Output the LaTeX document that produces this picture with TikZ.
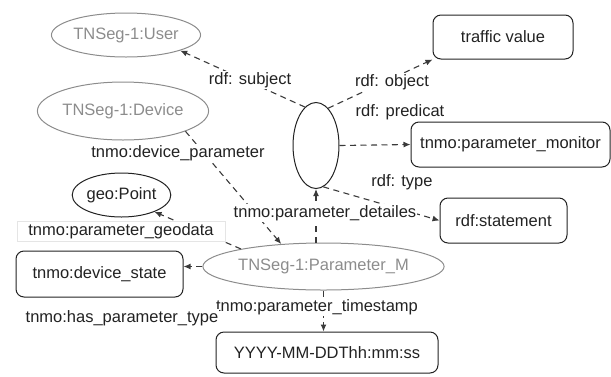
\documentclass[tikz,border=0pt]{standalone}
\usepackage{fontspec}
\setmainfont{Liberation Sans}
\usetikzlibrary{shapes.geometric,arrows.meta}
\definecolor{lgray}{HTML}{8C8C8C}
\definecolor{ink}{HTML}{222222}
\definecolor{edgec}{HTML}{3A3A3A}
\tikzset{
  base/.style={font=\fontsize{16.5}{19.8}\selectfont, inner sep=0pt, line width=1pt},
  gell/.style={base, ellipse, draw=lgray, text=lgray},
  bell/.style={base, ellipse, draw=ink, text=ink},
  rbox/.style={base, rectangle, rounded corners=8pt, draw=ink, text=ink},
  lbl/.style={base, text=ink, fill=white, inner sep=1pt},
  edge/.style={draw=edgec, line width=1.1pt, dash pattern=on 6pt off 4.5pt, -{Latex[length=7pt,width=6pt]}}
}
\begin{document}
\begin{tikzpicture}[x=1pt,y=-1pt]
\useasboundingbox (0,0) rectangle (611,376);
% nodes
\node[gell, minimum width=146pt, minimum height=44pt] (user) at (126,35) {TNSeg-1:User};
\node[gell, minimum width=140pt, minimum height=58pt] (dev) at (123,111) {TNSeg-1:Device};
\node[bell, minimum width=97pt, minimum height=44pt] (geo) at (121.5,195) {geo:Point};
\node[bell, minimum width=46pt, minimum height=86pt] (c) at (316,145.5) {};
\node[gell, minimum width=187pt, minimum height=47pt] (pm) at (323.5,266.5) {TNSeg-1:Parameter\_M};
\node[rbox, minimum width=140pt, minimum height=44pt] (tv) at (503,37) {traffic value};
\node[rbox, minimum width=199pt, minimum height=45pt] (mon) at (510.5,144.5) {tnmo:parameter\_monitor};
\node[rbox, minimum width=127pt, minimum height=45pt] (st) at (503.5,220.5) {rdf:statement};
\node[rbox, minimum width=167pt, minimum height=46pt] (ds) at (99.5,274) {tnmo:device\_state};
\node[rbox, minimum width=222pt, minimum height=41pt] (ts) at (327,352.5) {YYYY-MM-DDThh:mm:ss};
% edges
\draw[edge] (c.106) -- (user.-16);
\draw[edge] (c.72) -- (tv.south west);
\draw[edge] (c.east) -- (mon.west);
\draw[edge] (c.-80) -- (st.west);
\draw[edge] (c.south |- pm.north) -- (c.south);
\draw[edge] (dev.-18) -- (pm.152);
\draw[edge] (pm.168) -- (geo.-27);
\draw[edge] (pm.west) -- (pm.west -| ds.east);
\draw[edge] (pm.south) -- (pm.south |- ts.north);
% labels (drawn over the connectors)
\node[lbl] (lsub) at (250,80) {rdf: subject};
\node[lbl] (lobj) at (392,82) {rdf: object};
\node[lbl] (lpred) at (400,112) {rdf: predicat};
\node[lbl] (ltype) at (402,182) {rdf: type};
\node[lbl] (ldevp) at (178,153) {tnmo:device\_parameter};
\node[lbl, draw=gray!20, line width=0.8pt, minimum width=208pt, minimum height=20pt] (lgeo) at (121,231) {tnmo:parameter\_geodata};
\node[lbl] (ldet) at (325,213) {tnmo:parameter\_detailes};
\node[lbl] (lts) at (317,307) {tnmo:parameter\_timestamp};
\node[lbl] (lhpt) at (122,318) {tnmo:has\_parameter\_type};
\end{tikzpicture}
\end{document}
